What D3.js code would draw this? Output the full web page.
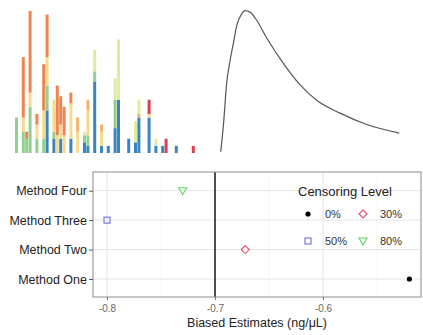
<!DOCTYPE html>
<html>
<head>
<meta charset="utf-8">
<script src="https://cdn.jsdelivr.net/npm/d3@7"></script>
<style>
  body { margin: 0; background: #fff; }
  text { font-family: "Liberation Sans", Arial, sans-serif; }
</style>
</head>
<body>
<div id="chart"></div>
<script>
// histogram bins (bin index) and stacked counts per group
const histBins    = [0, 2, 3, 4, 6, 8, 9, 11, 12, 13, 14, 16, 18, 20, 21, 23, 25, 27, 29, 30, 33, 35, 36, 39, 41, 43, 44, 47, 52];
const blueCounts  = [0, 0, 0, 0, 0, 0, 12, 4, 0, 4, 0, 4, 0, 3, 2, 20, 2, 2, 7, 15, 4, 3, 10, 10, 2, 2, 0, 2, 0];
const greenCounts = [10, 6, 4, 13, 4, 4, 7, 2, 0, 0, 0, 0, 0, 2, 3, 3, 0, 0, 8, 0, 0, 0, 0, 0, 0, 0, 0, 0, 0];
const yellowCounts = [0, 4, 0, 4, 4, 8, 8, 9, 5, 4, 5, 10, 6, 0, 7, 0, 4, 0, 0, 0, 0, 0, 0, 1, 0, 0, 0, 0, 0];
const lightOrangeCounts = [0, 0, 0, 0, 0, 0, 0, 0, 0, 0, 0, 0, 4, 0, 3, 0, 2, 0, 0, 0, 0, 0, 1, 0, 0, 0, 0, 0, 0];
const yellowGreenCounts = [0, 0, 0, 0, 0, 0, 0, 0, 0, 0, 0, 0, 0, 1, 0, 6, 0, 0, 6, 17, 0, 6, 4, 0, 2, 0, 0, 0, 0];
const orangeCounts = [0, 17, 2, 23, 3, 13, 12, 0, 14, 8, 8, 3, 0, 0, 0, 0, 0, 0, 0, 0, 0, 0, 0, 0, 0, 0, 0, 0, 0];
const redCounts   = [0, 0, 0, 0, 0, 0, 0, 0, 0, 0, 0, 0, 0, 0, 0, 0, 0, 0, 0, 0, 0, 0, 0, 4, 0, 0, 4, 0, 2];

// density curve
const densX = [0.4, 1.8, 3.7, 5.6, 7.4, 9.4, 11.7, 13.9, 16.7, 20, 25.9, 35.2, 44.4, 53.7, 66.7, 81.5, 99.6];
const densY = [0.01, 0.18, 0.49, 0.65, 0.77, 0.9, 0.97, 1.0, 0.99, 0.94, 0.81, 0.63, 0.48, 0.37, 0.28, 0.20, 0.14];

// bottom panel
const methods   = ["Method One", "Method Two", "Method Three", "Method Four"];
const estimates = [-0.52, -0.672, -0.80, -0.73];
const censoring = ["0%", "30%", "50%", "80%"];
const xTicks = [-0.8, -0.7, -0.6];
const refLine = -0.7;

const width = 423;
const height = 335;
const svg = d3.select("#chart").append("svg").attr("width", width).attr("height", height);

// ---------- stacked histogram ----------
const groups = ["blue", "green", "yellow", "lightorange", "yellowgreen", "orange", "red"];
const groupColor = {
    blue: "#3a84c1", green: "#93cf8e", yellow: "#f6da8e", lightorange: "#f3b36c",
    yellowgreen: "#dfec9d", orange: "#ee8451", red: "#d8404f"
};
const countsByGroup = {
    blue: blueCounts, green: greenCounts, yellow: yellowCounts, lightorange: lightOrangeCounts,
    yellowgreen: yellowGreenCounts, orange: orangeCounts, red: redCounts
};
const histRows = histBins.map((b, i) => {
    let row = { bin: b };
    groups.forEach(g => row[g] = countsByGroup[g][i]);
    return row;
});
const stacked = d3.stack().keys(groups)(histRows);

const hx = d3.scaleLinear().domain([0, 53]).range([14.8, 195]);
const hy = d3.scaleLinear().domain([0, 40]).range([153, 11]);
const binW = hx(1) - hx(0);

svg.append("g").selectAll("g")
    .data(stacked)
    .join("g")
    .attr("fill", d => groupColor[d.key])
    .selectAll("rect")
    .data(d => d.filter(s => s[1] > s[0]))
    .join("rect")
    .attr("x", d => hx(d.data.bin) + 0.2)
    .attr("width", binW - 0.4)
    .attr("y", d => hy(d[1]))
    .attr("height", d => hy(d[0]) - hy(d[1]));

// ---------- density curve ----------
const dx = d3.scaleLinear().domain([0, 100]).range([220, 400]);
const dy = d3.scaleLinear().domain([0, 1]).range([153, 10.7]);
const densPts = densX.map((x, i) => [x, densY[i]]);
svg.append("path")
    .datum(densPts)
    .attr("fill", "none")
    .attr("stroke", "#555")
    .attr("stroke-width", 1.2)
    .attr("d", d3.line().x(d => dx(d[0])).y(d => dy(d[1])).curve(d3.curveMonotoneX));

// ---------- dot plot ----------
const pLeft = 93, pRight = 421, pTop = 172, pBottom = 297;
const x = d3.scaleLinear().domain([-0.8 - 14 / 1080, -0.8 + 314 / 1080]).range([pLeft, pRight]);
const y = d3.scalePoint().domain(["Method Four", "Method Three", "Method Two", "Method One"]).range([190.7, 279]);

const grid = svg.append("g");
[-0.75, -0.65, -0.55].forEach(v => {
    grid.append("line").attr("x1", x(v)).attr("x2", x(v)).attr("y1", pTop).attr("y2", pBottom)
        .attr("stroke", "#f2f2f2").attr("stroke-width", 0.6);
});
xTicks.forEach(v => {
    grid.append("line").attr("x1", x(v)).attr("x2", x(v)).attr("y1", pTop).attr("y2", pBottom)
        .attr("stroke", "#e6e6e6").attr("stroke-width", 1);
});
methods.forEach(m => {
    grid.append("line").attr("x1", pLeft).attr("x2", pRight).attr("y1", y(m)).attr("y2", y(m))
        .attr("stroke", "#e6e6e6").attr("stroke-width", 1);
});

// reference line
svg.append("line")
    .attr("x1", x(refLine)).attr("x2", x(refLine)).attr("y1", pTop).attr("y2", pBottom)
    .attr("stroke", "#222").attr("stroke-width", 1.6);

svg.append("rect")
    .attr("x", pLeft).attr("y", pTop).attr("width", pRight - pLeft).attr("height", pBottom - pTop)
    .attr("fill", "none").attr("stroke", "#8c8c8c").attr("stroke-width", 1);

// axes
const xAxis = svg.append("g").attr("transform", `translate(0,${pBottom})`)
    .call(d3.axisBottom(x).tickValues(xTicks).tickSize(3).tickFormat(d3.format(".1f")));
xAxis.select(".domain").remove();
xAxis.selectAll("line").attr("stroke", "#777");
xAxis.selectAll("text").attr("fill", "#666").attr("font-size", 10).attr("dy", "0.85em")
    .text(d => d3.format(".1f")(d).replace("−", "-"));

const yAxis = svg.append("g").attr("transform", `translate(${pLeft},0)`)
    .call(d3.axisLeft(y).tickSize(4).tickPadding(2));
yAxis.select(".domain").remove();
yAxis.selectAll("line").attr("stroke", "#555");
yAxis.selectAll("text").attr("fill", "#222").attr("font-size", 12.5);

svg.append("text")
    .attr("x", (pLeft + pRight) / 2).attr("y", 327)
    .attr("text-anchor", "middle").attr("font-size", 12.5).attr("fill", "#222")
    .text("Biased Estimates (ng/μL)");

// shapes
const shapeColor = { "0%": "#000", "30%": "#e2506a", "50%": "#6b6be2", "80%": "#5cd65c" };
function drawShape(g, level, cx, cy) {
    const c = shapeColor[level];
    if (level === "0%") {
        g.append("circle").attr("cx", cx).attr("cy", cy).attr("r", 2.6).attr("fill", c);
    } else if (level === "30%") {
        g.append("path").attr("d", `M${cx},${cy - 4}L${cx + 4},${cy}L${cx},${cy + 4}L${cx - 4},${cy}Z`)
            .attr("fill", "none").attr("stroke", c).attr("stroke-width", 1.1);
    } else if (level === "50%") {
        g.append("rect").attr("x", cx - 3).attr("y", cy - 3).attr("width", 6).attr("height", 6)
            .attr("fill", "none").attr("stroke", c).attr("stroke-width", 1.1);
    } else {
        g.append("path").attr("d", `M${cx - 4},${cy - 3}L${cx + 4},${cy - 3}L${cx},${cy + 4}Z`)
            .attr("fill", "none").attr("stroke", c).attr("stroke-width", 1.1);
    }
}
const pts = svg.append("g");
methods.forEach((m, i) => drawShape(pts, censoring[i], x(estimates[i]), y(m)));

// legend
const legend = svg.append("g");
legend.append("text").attr("x", 298).attr("y", 196).attr("font-size", 13).attr("fill", "#222")
    .text("Censoring Level");
const legPos = [[308, 214], [363, 214], [308, 241], [363, 241]];
censoring.forEach((lv, i) => {
    drawShape(legend, lv, legPos[i][0], legPos[i][1]);
    legend.append("text").attr("x", legPos[i][0] + 17).attr("y", legPos[i][1] + 4)
        .attr("font-size", 11).attr("fill", "#333").text(lv);
});
</script>
</body>
</html>
